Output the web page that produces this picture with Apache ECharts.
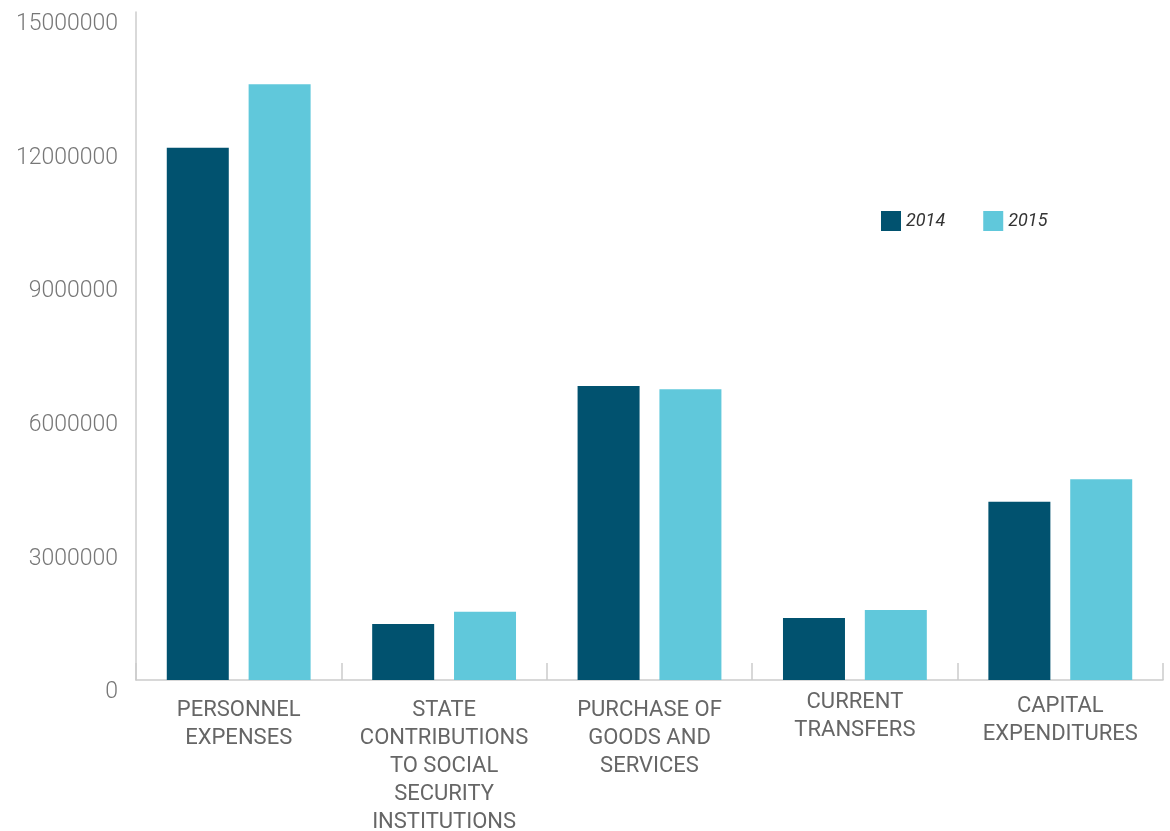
<!DOCTYPE html>
<html>
<head>
<meta charset="utf-8">
<script src="https://cdn.jsdelivr.net/npm/echarts@6/dist/echarts.min.js"></script>
<style>
  html, body { margin: 0; padding: 0; background: #fff; }
  #chart { width: 1170px; height: 831px; }
</style>
</head>
<body>
<div id="chart"></div>
<script>
  const categories = [
    'PERSONNEL\nEXPENSES',
    'STATE\nCONTRIBUTIONS\nTO SOCIAL\nSECURITY\nINSTITUTIONS',
    'PURCHASE OF\nGOODS AND\nSERVICES',
    'CURRENT\nTRANSFERS',
    'CAPITAL\nEXPENDITURES'
  ]
  // extra top offset of each category label (the source nudges some up)
  const labelShift = [8, 8, 8, 0, 4]
  const years = ['2014', '2015']
  const values2014 = [11950000, 1260000, 6600000, 1390000, 4000000]
  const values2015 = [13380000, 1530000, 6530000, 1570000, 4510000]
  const yTicks = { min: 0, max: 15000000, interval: 3000000 }

  let myChart = echarts.init(document.getElementById('chart'))
  myChart.setOption({
    animation: false,
    grid: { left: 136, right: 7, top: 12, bottom: 151, outerBoundsMode: 'none' },
    legend: {
      data: years,
      left: 876,
      top: 206,
      icon: 'rect',
      itemWidth: 20,
      itemHeight: 20,
      itemGap: 38,
      textStyle: { fontFamily: 'Roboto', fontStyle: 'italic', fontSize: 18, color: '#333' }
    },
    xAxis: {
      type: 'category',
      data: categories.map((c, i) => ({ value: c, textStyle: { padding: [labelShift[i], 0, 0, 0] } })),
      axisLine: { lineStyle: { color: '#cccccc', width: 1.5 } },
      axisTick: { show: true, inside: true, length: 17, lineStyle: { color: '#cccccc', width: 1.5 } },
      axisLabel: {
        interval: 0,
        margin: 8,
        fontFamily: 'Roboto',
        fontSize: 22,
        lineHeight: 28,
        color: '#666'
      }
    },
    yAxis: {
      type: 'value',
      min: yTicks.min,
      max: yTicks.max,
      interval: yTicks.interval,
      splitLine: { show: false },
      axisTick: { show: false },
      axisLine: { show: true, lineStyle: { color: '#cccccc', width: 1.5 } },
      axisLabel: {
        margin: 18,
        verticalAlign: 'top',
        lineHeight: 25,
        formatter: v => String(v),
        fontFamily: 'Roboto',
        fontWeight: 300,
        fontSize: 23,
        color: '#777'
      }
    },
    series: [
      {
        name: years[0],
        type: 'bar',
        data: values2014,
        barWidth: 62,
        barGap: '32%',
        itemStyle: { color: '#01526f' }
      },
      {
        name: years[1],
        type: 'bar',
        data: values2015,
        barWidth: 62,
        barGap: '32%',
        itemStyle: { color: '#60c8db' }
      }
    ]
  })
</script>
</body>
</html>
